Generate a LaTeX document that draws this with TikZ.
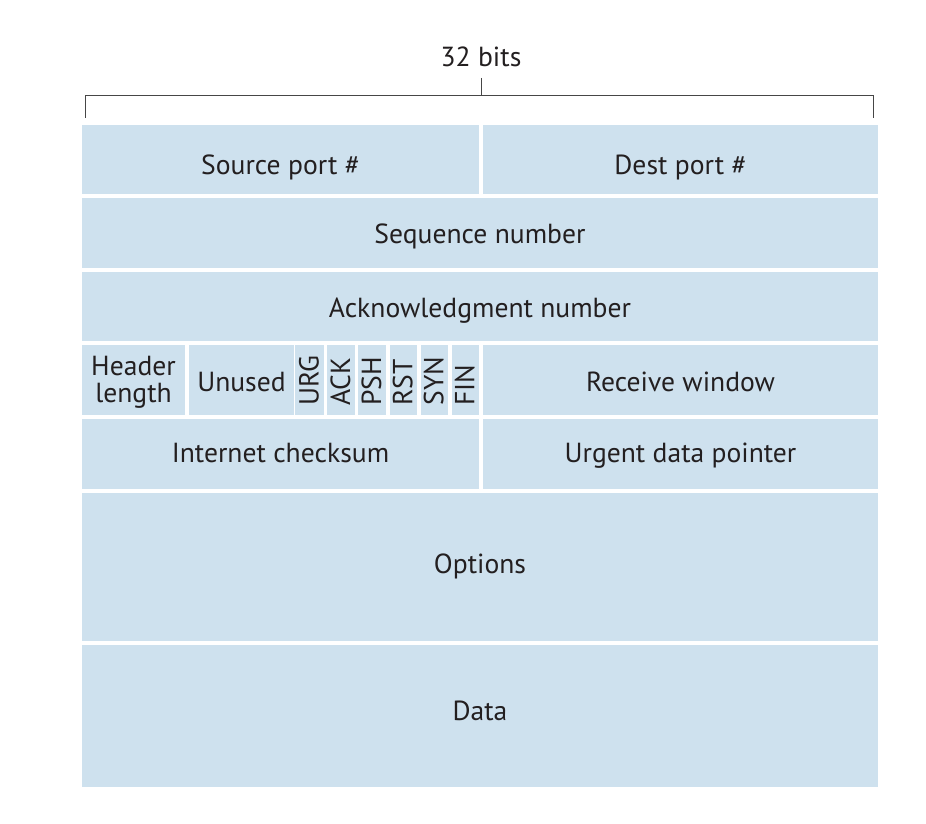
\documentclass[tikz,border=0pt]{standalone}
\usepackage{fontspec}
\setmainfont{PT Sans}
\usepackage{xcolor}
\usepackage{tikz}

\definecolor{fieldblue}{RGB}{206,225,238}
\definecolor{inkgray}{RGB}{35,31,32}
\definecolor{rulegray}{RGB}{70,70,70}

\tikzset{
 field/.style={fill=fieldblue, inner sep=0pt, align=center, text=inkgray,
  text depth=0pt, font=\fontsize{27.6}{27.3}\selectfont},
 flag/.style={field, rotate=90, align=left, text width=51, inner xsep=9.5,
  text height=18},
 bracket/.style={draw=rulegray, line width=1pt}
}

\begin{document}
\begin{tikzpicture}[x=1pt, y=-1pt]
 \useasboundingbox (0,0) rectangle (926,824);

 \node [anchor=base, inner sep=0pt, text=inkgray, font=\fontsize{27.6}{27.3}\selectfont] (bits) at (481, 66.7) {32 bits};
 \coordinate (bl) at (85, 118);
 \coordinate (br) at (873, 118);
 \coordinate (bm) at (481, 78);
 \draw [bracket] (bl) -- (85, 96) -- (873, 96) -- (br);
 \draw [bracket] (bm) -- (481, 96);

 \node [field, minimum width=397, minimum height=69, text height=29.6] (src) at (280.5, 159.5) {Source port \#};
 \node [field, minimum width=395, minimum height=69, text height=29.6] (dst) at (680.5, 159.5) {Dest port \#};

 \node [field, minimum width=796, minimum height=70, text height=20.6] (seq) at (480, 233) {Sequence number};
 \node [field, minimum width=796, minimum height=69, text height=21.6] (ack) at (480, 306.5) {Acknowledgment number};

 \node [field, minimum width=103, minimum height=70, text height=44.6] (hlen) at (133.5, 380) {Header\\length};
 \node [field, minimum width=105, minimum height=70, text height=23.4] (unused) at (241.5, 380) {Unused};
 \node [flag, minimum height=29] (urg) at (309.7, 380) {URG};
 \node [flag, minimum height=28] (ackf) at (341, 380) {ACK};
 \node [flag, minimum height=27.4] (psh) at (372, 380) {PSH};
 \node [flag, minimum height=27.3] (rst) at (403.3, 380) {RST};
 \node [flag, minimum height=26.7] (syn) at (434.3, 380) {SYN};
 \node [flag, minimum height=27.3] (fin) at (465.3, 380) {FIN};
 \node [field, minimum width=395, minimum height=70, text height=22] (rwnd) at (680.5, 380) {Receive window};

 \node [field, minimum width=397, minimum height=70, text height=16.6] (csum) at (280.5, 454) {Internet checksum};
 \node [field, minimum width=395, minimum height=70, text height=17.6] (urgp) at (680.5, 454) {Urgent data pointer};

 \node [field, minimum width=796, minimum height=148, text height=12] (opts) at (480, 567) {Options};
 \node [field, minimum width=796, minimum height=142, text height=8] (data) at (480, 716) {Data};
\end{tikzpicture}
\end{document}
